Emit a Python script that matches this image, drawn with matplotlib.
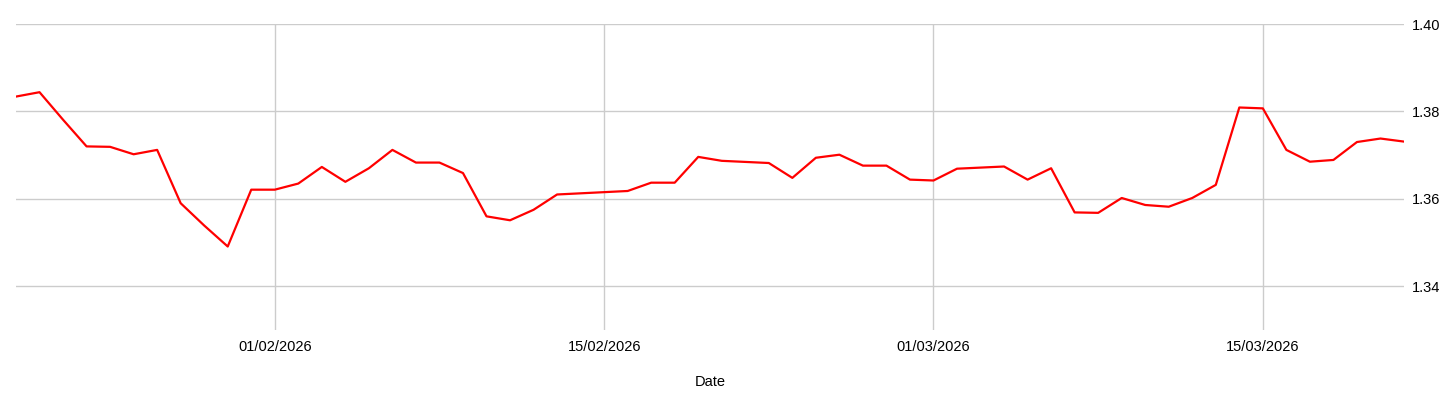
import numpy as np
import pandas as pd
import matplotlib
matplotlib.use('Agg')
import matplotlib.pyplot as plt
import matplotlib.dates as mdates

# daily closing values
dates = ['2026-01-21', '2026-01-22', '2026-01-23', '2026-01-24', '2026-01-25',
         '2026-01-26', '2026-01-27', '2026-01-28', '2026-01-29', '2026-01-30',
         '2026-01-31', '2026-02-01', '2026-02-02', '2026-02-03', '2026-02-04',
         '2026-02-05', '2026-02-06', '2026-02-07', '2026-02-08', '2026-02-09',
         '2026-02-10', '2026-02-11', '2026-02-12', '2026-02-13', '2026-02-16',
         '2026-02-17', '2026-02-18', '2026-02-19', '2026-02-20', '2026-02-22',
         '2026-02-23', '2026-02-24', '2026-02-25', '2026-02-26', '2026-02-27',
         '2026-02-28', '2026-03-01', '2026-03-02', '2026-03-04', '2026-03-05',
         '2026-03-06', '2026-03-07', '2026-03-08', '2026-03-09', '2026-03-10',
         '2026-03-11', '2026-03-12', '2026-03-13', '2026-03-14', '2026-03-15',
         '2026-03-16', '2026-03-17', '2026-03-18', '2026-03-19', '2026-03-20',
         '2026-03-21']
values = [1.3834, 1.3844, 1.3781, 1.3720, 1.3719,
          1.3702, 1.3712, 1.3590, 1.3539, 1.3491,
          1.3621, 1.3621, 1.3635, 1.3673, 1.3639,
          1.3670, 1.3712, 1.3683, 1.3683, 1.3659,
          1.3560, 1.3551, 1.3575, 1.3610, 1.3618,
          1.3637, 1.3637, 1.3696, 1.3687, 1.3682,
          1.3648, 1.3694, 1.3701, 1.3676, 1.3676,
          1.3644, 1.3642, 1.3669, 1.3674, 1.3644,
          1.3670, 1.3569, 1.3568, 1.3602, 1.3586,
          1.3582, 1.3602, 1.3632, 1.3809, 1.3807,
          1.3712, 1.3685, 1.3689, 1.3730, 1.3738,
          1.3731]
y_ticks = [1.34, 1.36, 1.38, 1.40]
x_ticks = ['2026-02-01', '2026-02-15', '2026-03-01', '2026-03-15']

x = pd.to_datetime(dates)

plt.rcParams['font.family'] = ['Liberation Sans', 'DejaVu Sans']

fig = plt.figure(figsize=(14.56, 4.05), dpi=100)
ax = fig.add_axes([16/1456, 1-330/405, (1404-16)/1456, (330-24)/405])

ax.plot(x, values, color='#ff0000', lw=1.6, zorder=3)

ax.set_xlim(pd.Timestamp('2026-01-21'), pd.Timestamp('2026-03-21'))
ax.set_ylim(1.33, 1.40)

ax.set_yticks(y_ticks)
ax.set_yticklabels(['%.2f' % v for v in y_ticks])
ax.yaxis.tick_right()
ax.set_xticks(pd.to_datetime(x_ticks))
ax.xaxis.set_major_formatter(mdates.DateFormatter('%d/%m/%Y'))

ax.tick_params(axis='both', length=0, labelsize=10.5, colors='black')
ax.tick_params(axis='y', pad=6)
ax.tick_params(axis='x', pad=7.5)

ax.grid(True, color='#cccccc', lw=1, zorder=0)
for s in ax.spines.values():
    s.set_visible(False)

ax.set_xlabel('Date', fontsize=10.5, labelpad=15)

fig.savefig('out.png', dpi=100)
